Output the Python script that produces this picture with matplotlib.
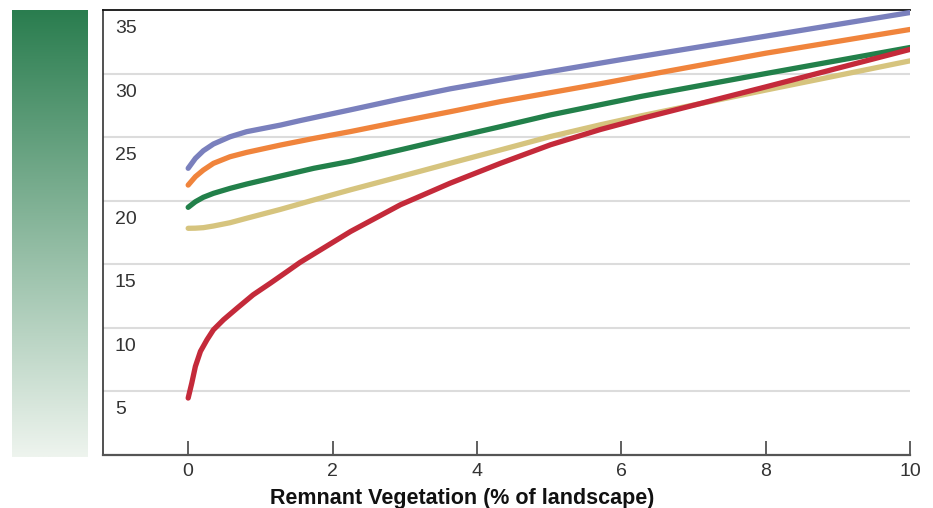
import numpy as np
import matplotlib
matplotlib.use("Agg")
import matplotlib.pyplot as plt

plt.rcParams['font.family'] = ['Liberation Sans', 'DejaVu Sans']

# values
x_blue = [0, 0.1, 0.21, 0.35, 0.58, 0.81, 1.28, 1.55, 2.25, 2.94, 3.63, 4.33, 6.0, 8.0, 10.0]
blue = [22.55, 23.33, 23.93, 24.46, 25.03, 25.43, 25.95, 26.3, 27.15, 28.0, 28.8, 29.5, 31.1, 32.94, 34.8]

x_std = [0, 0.1, 0.21, 0.35, 0.58, 0.81, 1.28, 1.74, 2.25, 2.94, 3.63, 4.33, 5.02, 5.71, 6.27, 8.0, 10.0]
orange = [21.23, 21.89, 22.41, 22.94, 23.46, 23.8, 24.38, 24.9, 25.44, 26.23, 27.0, 27.8, 28.5, 29.2, 29.8, 31.6, 33.47]
green = [19.48, 19.92, 20.27, 20.58, 20.97, 21.31, 21.94, 22.55, 23.1, 24.0, 24.92, 25.83, 26.75, 27.55, 28.2, 30.0, 32.05]
tan = [17.83, 17.84, 17.88, 18.01, 18.27, 18.62, 19.32, 20.06, 20.86, 21.9, 22.95, 24.0, 25.05, 25.97, 26.67, 28.7, 31.0]

x_red = [0, 0.05, 0.1, 0.17, 0.26, 0.35, 0.49, 0.68, 0.9, 1.14, 1.37, 1.55, 2.25, 2.94,
         3.63, 4.33, 5.02, 5.71, 6.27, 8.0, 10.0]
red = [4.48, 5.66, 6.97, 8.15, 9.06, 9.85, 10.64, 11.56, 12.6, 13.52, 14.43, 15.15, 17.58, 19.68,
       21.38, 22.95, 24.4, 25.6, 26.45, 28.95, 31.9]

xticks = [0, 2, 4, 6, 8, 10]
yticks = [5, 10, 15, 20, 25, 30, 35]
xlabel = "Remnant Vegetation (% of landscape)"

fig = plt.figure(figsize=(9.33, 5.08), dpi=100)

# green gradient bar on the left
gax = fig.add_axes([12/933, 1 - 457/508, 76/933, 447/508])
top_c = np.array([0x2a, 0x7d, 0x4f]) / 255
bot_c = np.array([0xee, 0xf4, 0xee]) / 255
t = np.linspace(0, 1, 256)[:, None]
grad = top_c * (1 - t) + bot_c * t
gax.imshow(grad[:, None, :], aspect='auto', extent=[0, 1, 0, 1])
gax.set_axis_off()

ax = fig.add_axes([103/933, 1 - 455/508, 807/933, 445/508])
lw = 3.8
ax.plot(x_blue, blue, color='#7a80bd', lw=lw, solid_capstyle='round', solid_joinstyle='round', zorder=3)
ax.plot(x_std, orange, color='#f0843c', lw=lw, solid_capstyle='round', solid_joinstyle='round', zorder=3)
ax.plot(x_std, green, color='#22804a', lw=lw, solid_capstyle='round', solid_joinstyle='round', zorder=3)
ax.plot(x_std, tan, color='#d6c47e', lw=lw, solid_capstyle='round', solid_joinstyle='round', zorder=3)
ax.plot(x_red, red, color='#c42a3a', lw=lw, solid_capstyle='round', solid_joinstyle='round', zorder=4)

ax.set_xlim(-1.18, 10.0)
ax.set_ylim(0, 35)

for v in yticks[:-1]:
    ax.axhline(v, color='#dcdcdc', lw=1.5, zorder=1)
for v in yticks:
    ax.annotate(str(v), xy=(0, v), xycoords=('axes fraction', 'data'),
                xytext=(12, -10), textcoords='offset pixels',
                ha='left', va='top', fontsize=14, color='#333333')

ax.set_yticks([])
ax.set_xticks(xticks)
ax.set_xticklabels([str(v) for v in xticks], fontsize=14, color='#333333')
ax.tick_params(axis='x', direction='in', length=10, width=1.2, color='#444444', pad=6)

ax.spines['right'].set_visible(False)
ax.spines['top'].set_color('#111111')
ax.spines['top'].set_linewidth(1.3)
ax.spines['left'].set_color('#333333')
ax.spines['left'].set_linewidth(1.2)
ax.spines['bottom'].set_color('#555555')
ax.spines['bottom'].set_linewidth(1.6)

fig.text(462/933, 4/508, xlabel, ha='center', va='baseline', fontsize=15.5,
         fontweight='bold', color='#111111')

fig.savefig('out.png', dpi=100)
